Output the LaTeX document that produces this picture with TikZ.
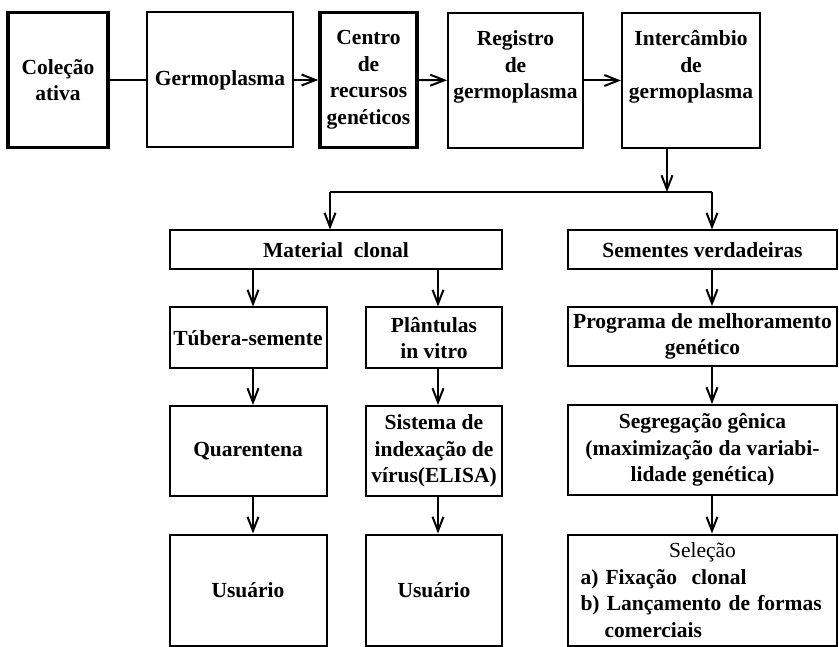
\documentclass[tikz,border=0pt]{standalone}
\usepackage{fontspec}
\setmainfont{Liberation Serif}
\usetikzlibrary{arrows.meta,positioning}

\begin{document}
\begin{tikzpicture}[
            x=1pt, y=-1pt,
            box/.style={draw, line width=2pt, align=center, inner sep=0pt,
                font=\fontsize{21.5}{26.5}\selectfont\bfseries},
            heavybox/.style={box, line width=3.5pt},
            link/.style={line width=2pt},
            arr/.style={link, -{Straight Barb[length=14pt,width=11pt,line width=2pt]}},
            auto
        ]
            \useasboundingbox (0,0) rectangle (839,647);
            % Top row
            \node[heavybox, minimum width=100, minimum height=135] (colecao) at ( 58, 80) {Coleção\\ativa};
            \node[box, minimum width=146, minimum height=135] (germo) at (220, 80) {Germoplasma};
            \node[heavybox, minimum width=97, minimum height=135] (centro) at (368.5, 80) {Centro\\de\\recursos\\genéticos};
            \node[box, minimum width=135, minimum height=135] (registro) at (515.5, 80.5) {Registro\\de\\germoplasma\\[5pt]};
            \node[box, minimum width=138, minimum height=135] (interc) at (691, 80.5) {Intercâmbio\\de\\germoplasma\\[5pt]};
            % Branch points
            \coordinate (split) at (667,192);
            \coordinate (jl) at (330,192);
            \coordinate (jr) at (712,192);
            % Clonal material
            \node[box, minimum width=332, minimum height=39] (matclonal) at (336, 250) {Material\ \ clonal};
            \node[box, minimum width=157, minimum height=61] (tubera) at (248, 338) {Túbera-semente};
            \node[box, minimum width=136, minimum height=61] (plantulas) at (434, 338) {Plântulas\\in vitro};
            \node[box, minimum width=157, minimum height=90] (quarentena) at (248, 451) {Quarentena};
            \node[box, minimum width=136, minimum height=90] (sistema) at (434, 451) {Sistema de\\indexação de\\vírus(ELISA)};
            \node[box, minimum width=157, minimum height=111] (usuarioa) at (248, 590) {Usuário};
            \node[box, minimum width=136, minimum height=111] (usuariob) at (434, 590) {Usuário};
            % True seeds
            \node[box, minimum width=269, minimum height=39] (sementes) at (702.5, 250) {Sementes verdadeiras};
            \node[box, minimum width=269, minimum height=59] (programa) at (702.5, 336.5) {Programa de melhoramento\\genético};
            \node[box, minimum width=269, minimum height=90] (segregacao) at (702.5, 450) {Segregação gênica\\(maximização da variabi-\\lidade genética)};
            \node[box, minimum width=269, minimum height=111, align=left, text width=244] (selecao) at (702.5, 590)
                {\makebox[244pt]{\mdseries Seleção}\\a)\ Fixação\ \ clonal\\\makebox[244pt][s]{b)\ Lançamento de formas}\\\hspace*{24pt}comerciais};
            % Edges
            \draw[link] (colecao) -- (germo); % no tip
            \draw[arr] (germo) -- (centro);
            \draw[arr] (centro) -- (registro);
            \draw[arr] (registro) -- (interc);
            \draw[arr] (interc.south -| split) -- (split);
            \draw[link] (jl) -- (jr);
            \draw[arr] (jl) -- (jl |- matclonal.north);
            \draw[arr] (jr) -- (jr |- sementes.north);
            \draw[arr] ([xshift=5pt]tubera.north |- matclonal.south) -- ([xshift=5pt]tubera.north);
            \draw[arr] ([xshift=4pt]plantulas.north |- matclonal.south) -- ([xshift=4pt]plantulas.north);
            \draw[arr] ([xshift=5pt]tubera.south) -- ([xshift=5pt]quarentena.north);
            \draw[arr] ([xshift=4pt]plantulas.south) -- ([xshift=4pt]sistema.north);
            \draw[arr] ([xshift=5pt]quarentena.south) -- ([xshift=5pt]usuarioa.north);
            \draw[arr] ([xshift=4pt]sistema.south) -- ([xshift=4pt]usuariob.north);
            \draw[arr] ([xshift=9.5pt]sementes.south) -- ([xshift=9.5pt]programa.north);
            \draw[arr] ([xshift=9.5pt]programa.south) -- ([xshift=9.5pt]segregacao.north);
            \draw[arr] ([xshift=9.5pt]segregacao.south) -- ([xshift=9.5pt]selecao.north);
        \end{tikzpicture}
\end{document}
